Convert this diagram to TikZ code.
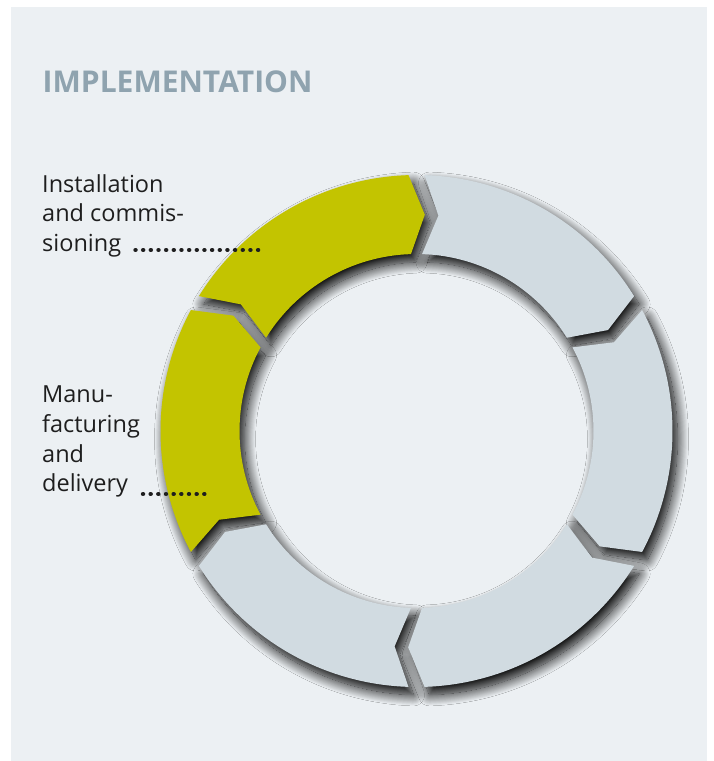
\documentclass[tikz,border=0pt]{standalone}
\usepackage{fontspec}
\setmainfont{Open Sans}
\usetikzlibrary{shadows.blur}
\definecolor{panel}{HTML}{ECF0F3}
\definecolor{ylw}{HTML}{C3C400}
\definecolor{segray}{HTML}{D1DBE1}
\definecolor{ttl}{HTML}{8FA3AF}
\definecolor{txt}{HTML}{1E1E1E}
\def\ringRo{256pt}
\def\ringRi{177pt}
\def\ringRm{216.5pt}
\def\ringgap{1.8}
\def\ringtip{4}
\newcommand\segpath[2]{({#1-\ringgap}:\ringRo) arc[start angle={#1-\ringgap}, end angle={#2+\ringgap}, radius=\ringRo] -- ({#2+\ringgap-\ringtip}:\ringRm) -- ({#2+\ringgap}:\ringRi) arc[start angle={#2+\ringgap}, end angle={#1-\ringgap}, radius=\ringRi] -- ({#1-\ringgap-\ringtip}:\ringRm) -- cycle}
\tikzset{
  ringshadow/.style={blur shadow={shadow xshift=5pt, shadow yshift=-8pt, shadow blur radius=11pt, shadow opacity=100, shadow blur steps=22}},
  yseg/.style={fill=ylw},
  gseg/.style={fill=segray},
  titletext/.style={inner sep=0pt, text=ttl, font=\bfseries\fontsize{30}{36}\selectfont},
  lbl/.style={inner sep=0pt, align=left, text=txt, font=\fontsize{23.5}{29.6}\selectfont},
  leader/.style={draw=txt, line width=4.4pt, line cap=round, dash pattern=on 0.05pt off 7.61pt}
}
\begin{document}
\begin{tikzpicture}[x=1pt,y=1pt]
\useasboundingbox (0,0) rectangle (713,-761);
\fill[white] (0,0) rectangle (713,-761);
\fill[panel] (11,-7) rectangle (707,-761);
\node[titletext, anchor=base west] (title) at (42.5,-92.3) {IMPLEMENTATION};
\begin{scope}[shift={(416.5,-431)}]
  \path[ringshadow] \segpath{150}{90};
  \path[ringshadow] \segpath{210}{150};
  \path[ringshadow] \segpath{90}{30};
  \path[ringshadow] \segpath{30}{-30};
  \path[ringshadow] \segpath{-30}{-90};
  \path[ringshadow] \segpath{-90}{-150};
  \fill[gseg] \segpath{90}{30};
  \fill[gseg] \segpath{30}{-30};
  \fill[gseg] \segpath{-30}{-90};
  \fill[gseg] \segpath{-90}{-150};
  \fill[yseg] \segpath{150}{90};
  \fill[yseg] \segpath{210}{150};
\end{scope}
\node[lbl, anchor=base west] (inst) at (42,-251.5) {Installation\\and commis-\\sioning};
\node[lbl, anchor=base west] (manu) at (42,-491.7) {Manu-\\facturing\\and\\delivery};
\coordinate (insta) at (135.5,-250);
\coordinate (instb) at (258.2,-250);
\draw[leader] (insta) -- (instb);
\coordinate (manua) at (143,-494);
\coordinate (manub) at (204.5,-494);
\draw[leader] (manua) -- (manub);
\end{tikzpicture}
\end{document}
